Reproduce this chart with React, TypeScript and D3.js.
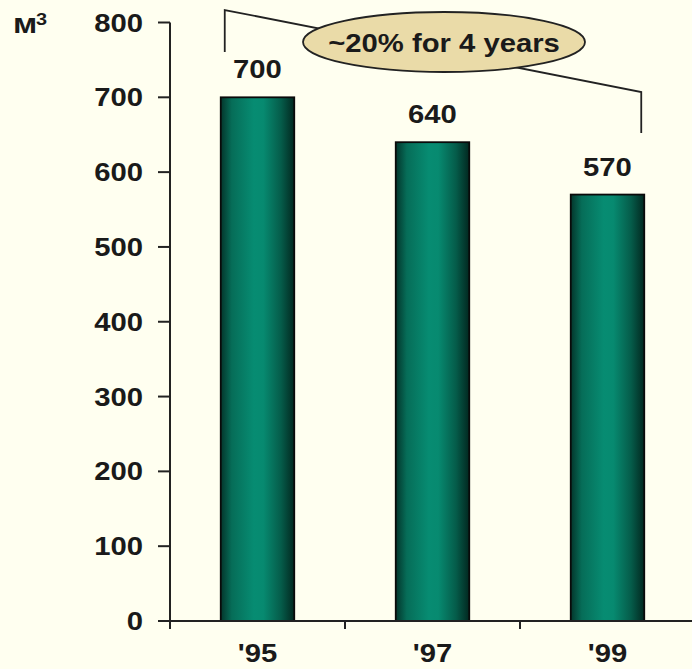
import React from "react";
import * as d3 from "d3";

const categories = ["'95", "'97", "'99"];
const values = [700, 640, 570];
const yTicks = [0, 100, 200, 300, 400, 500, 600, 700, 800];
const unitLabel = "м";
const unitSup = "3";
const annotation = "~20% for 4 years";

const W = 692;
const H = 669;
const FONT = "'Liberation Sans', Arial, Helvetica, sans-serif";
const SX = 1.17;

export default function App() {
  const y = d3.scaleLinear().domain([0, 800]).range([621, 22.5]);
  const x = d3.scaleBand<string>().domain(categories).range([170, 695]).padding(0);
  const barW = x.bandwidth() * 0.42;
  const barX = (c: string) => (x(c) as number) + (x.bandwidth() - barW) / 2;
  const cx = (c: string) => (x(c) as number) + x.bandwidth() / 2;

  const T = (props: { x: number; y: number; anchor?: string; size?: number; children: React.ReactNode }) => (
    <text
      transform={`translate(${props.x},${props.y}) scale(${SX},1)`}
      textAnchor={props.anchor || "middle"}
      fontFamily={FONT}
      fontWeight="bold"
      fontSize={props.size || 25}
      fill="#1a1a1a"
    >
      {props.children}
    </text>
  );

  const first = categories[0];
  const last = categories[categories.length - 1];
  const lx = barX(first) + 4;
  const rx = barX(last) + barW - 3;
  const bracket = d3.line()([
    [lx, 52],
    [lx, 10],
    [rx, 92],
    [rx, 133],
  ]);

  return (
    <svg width={W} height={H} style={{ position: "absolute", left: 0, top: 0, background: "#FFFFF0" }}>
      <defs>
        <linearGradient id="barGrad" x1="0" x2="1" y1="0" y2="0">
          <stop offset="0%" stopColor="#03352b" />
          <stop offset="15%" stopColor="#066d58" />
          <stop offset="45%" stopColor="#078c72" />
          <stop offset="58%" stopColor="#078a70" />
          <stop offset="82%" stopColor="#055c4a" />
          <stop offset="100%" stopColor="#022820" />
        </linearGradient>
      </defs>
      <rect x={0} y={0} width={W} height={H} fill="#FFFFF0" />

      {/* unit label */}
      <T x={13} y={33} anchor="start" size={28}>{unitLabel}</T>
      <T x={36} y={25} anchor="start" size={17}>{unitSup}</T>

      {/* y axis */}
      <line x1={170} x2={170} y1={y(800)} y2={y(0) + 8} stroke="#222" strokeWidth={2} />
      {yTicks.map((t) => (
        <g key={t}>
          <line x1={158} x2={170} y1={y(t)} y2={y(t)} stroke="#222" strokeWidth={2} />
          <T x={143} y={y(t) + 9} anchor="end">{t}</T>
        </g>
      ))}

      {/* bars */}
      {categories.map((c, i) => (
        <g key={c}>
          <rect
            x={barX(c)}
            y={y(values[i])}
            width={barW}
            height={y(0) - y(values[i])}
            fill="url(#barGrad)"
            stroke="#0a0a0a"
            strokeWidth={1.8}
          />
          <T x={cx(c)} y={y(values[i]) - 19}>{values[i]}</T>
          <T x={cx(c)} y={662}>{c}</T>
        </g>
      ))}

      {/* x axis */}
      <line x1={158} x2={W} y1={y(0)} y2={y(0)} stroke="#222" strokeWidth={2} />
      {categories.map((c) => (
        <line key={c} x1={x(c) as number} x2={x(c) as number} y1={y(0)} y2={y(0) + 8} stroke="#222" strokeWidth={2} />
      ))}

      {/* annotation */}
      <path d={bracket || ""} fill="none" stroke="#222" strokeWidth={1.8} />
      <ellipse cx={444} cy={42} rx={141} ry={30} fill="#EADBA8" stroke="#222" strokeWidth={1.8} />
      <T x={444} y={52} size={25}>{annotation}</T>
    </svg>
  );
}
